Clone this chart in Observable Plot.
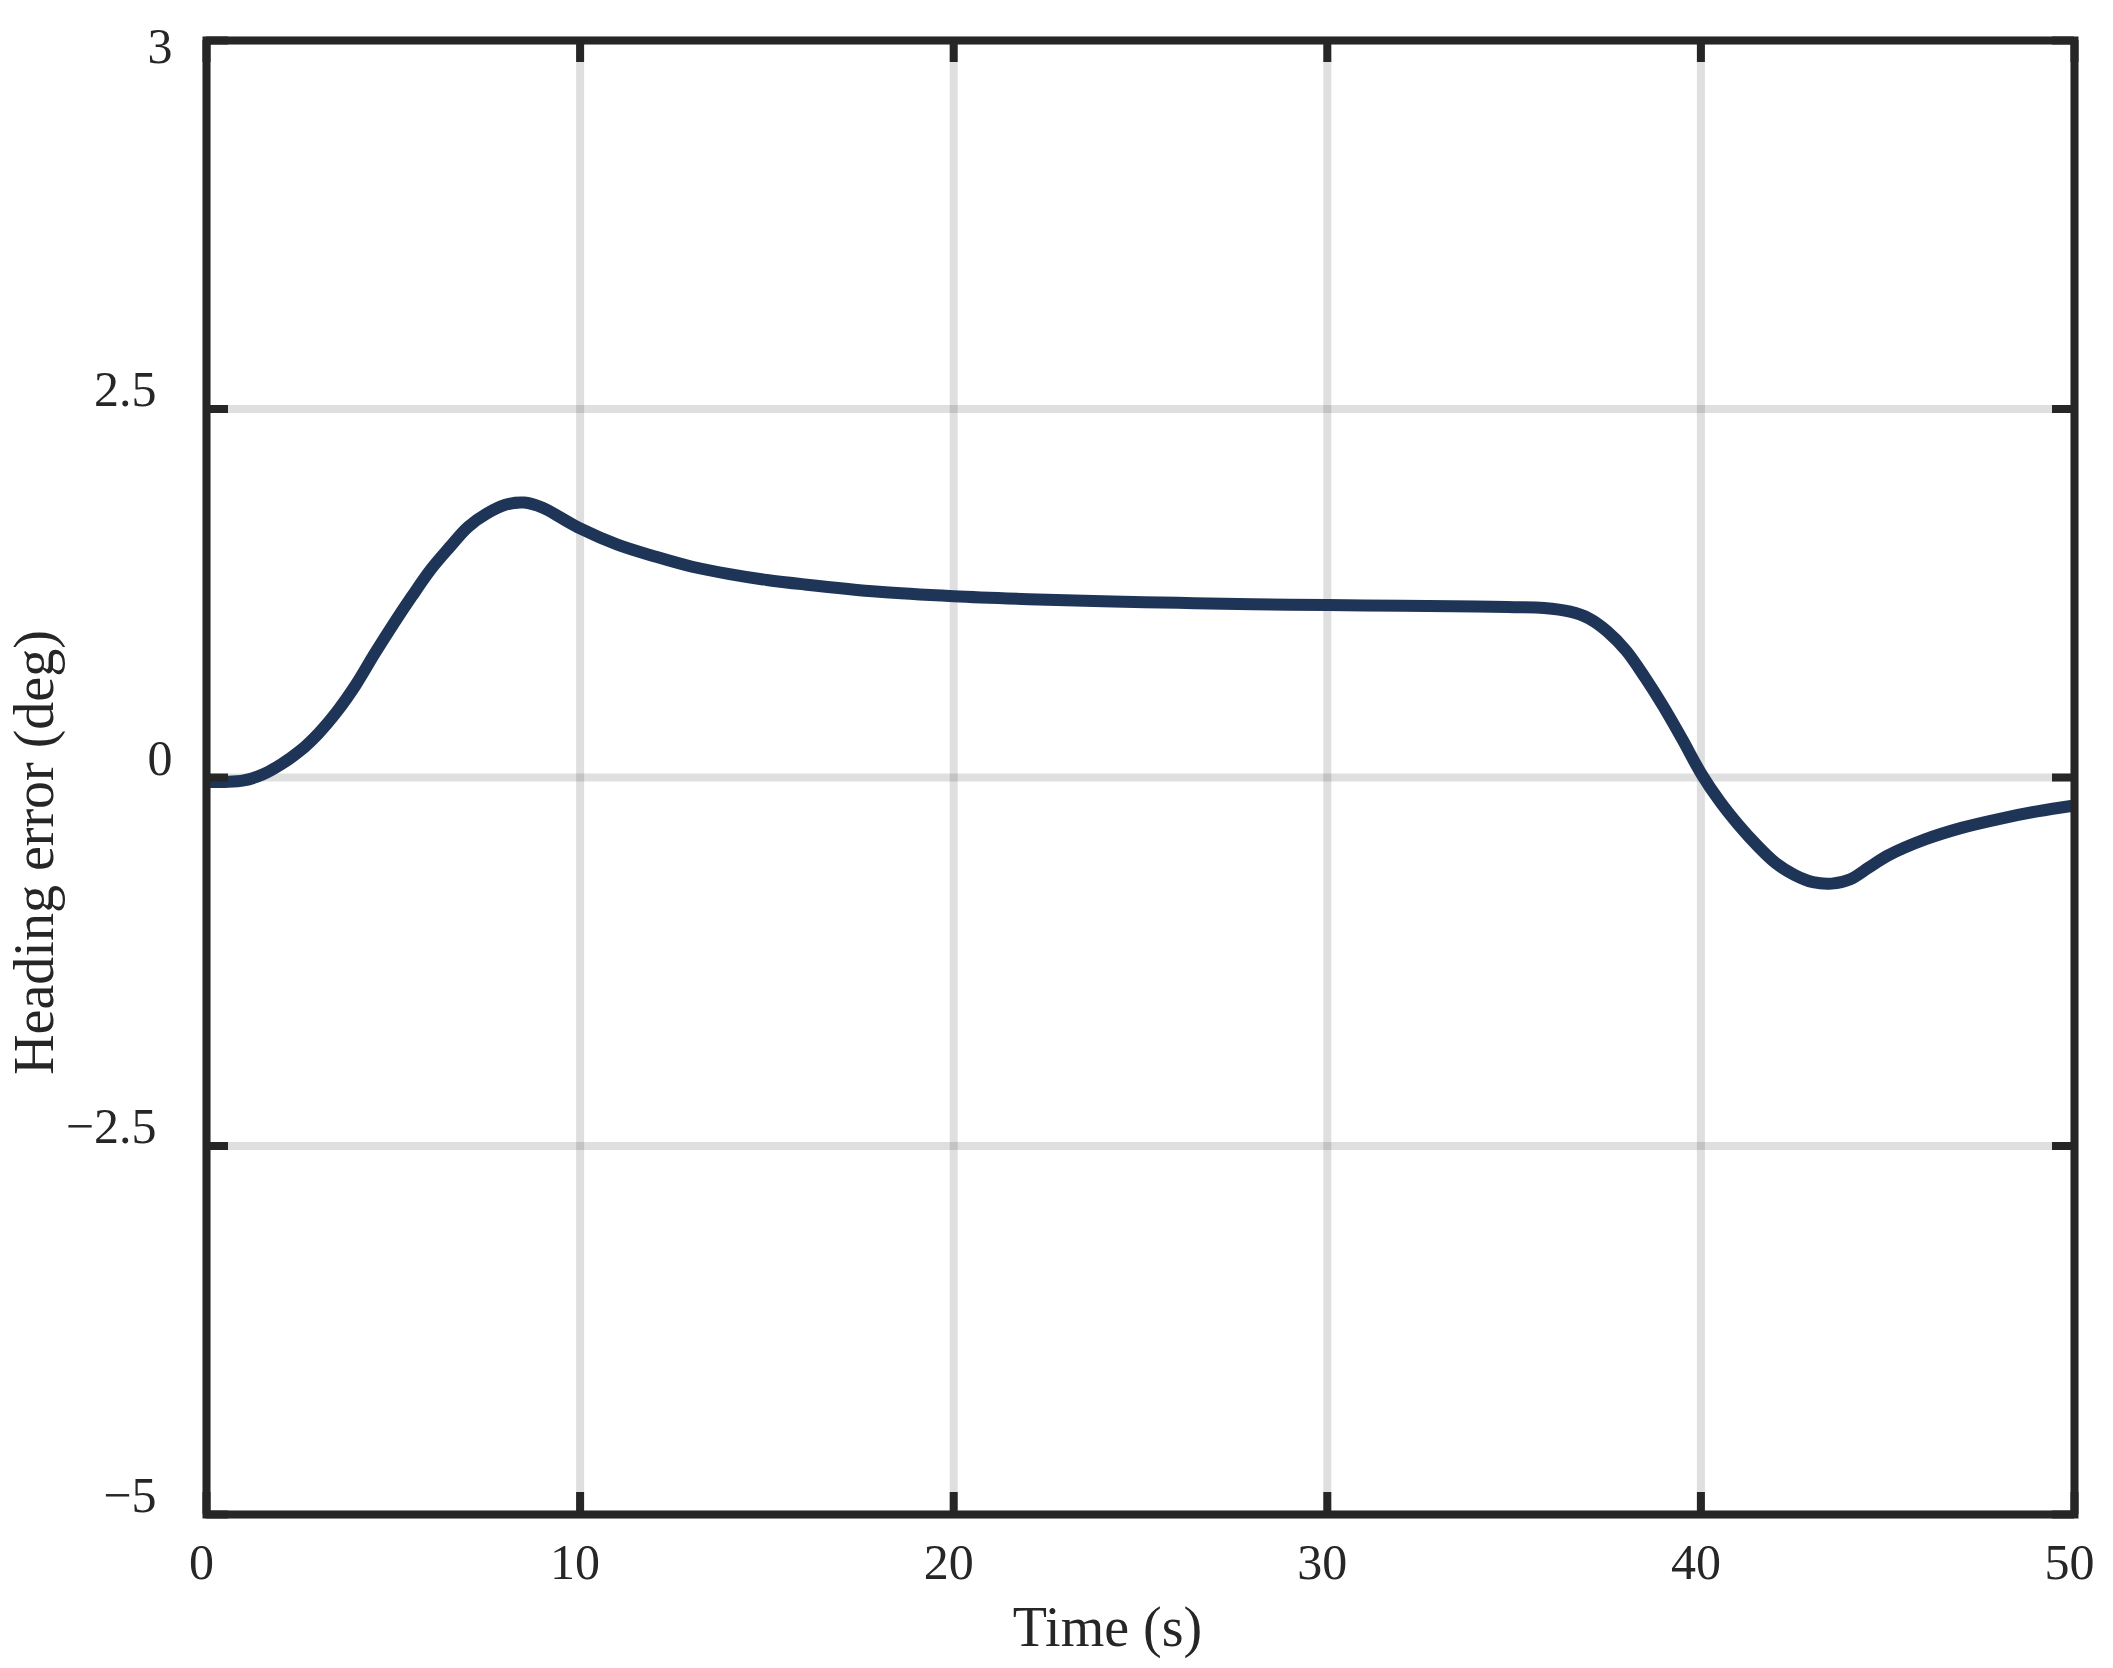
<!DOCTYPE html>
<html>
<head>
<meta charset="utf-8">
<script src="https://cdn.jsdelivr.net/npm/d3@7"></script>
<script src="https://cdn.jsdelivr.net/npm/@observablehq/plot@0.6"></script>
<style>
  html, body { margin: 0; padding: 0; background: #ffffff; }
  #chart svg { display: block; }
</style>
</head>
<body>
<div id="chart"></div>
<script>
// ---- data ----
const time = [0, 0.5, 1, 1.5, 2, 2.5, 3, 3.5, 4, 4.5, 5, 5.5, 6, 6.5, 7, 7.5, 8, 8.5, 9, 9.5,
  10, 11, 12, 13, 14, 15, 16, 18, 20, 22, 24, 26, 28, 30, 32, 34, 35, 35.8, 36.5, 37, 37.5,
  38, 38.5, 39, 39.5, 40, 40.5, 41, 41.5, 42, 42.5, 43, 43.5, 44, 44.5, 45, 46, 47, 48, 49, 50];
const heading = [-0.03, -0.03, -0.02, 0.02, 0.09, 0.18, 0.30, 0.45, 0.63, 0.84, 1.04, 1.23, 1.41, 1.56, 1.70, 1.79, 1.85, 1.865, 1.83, 1.76,
  1.69, 1.58, 1.50, 1.43, 1.38, 1.34, 1.31, 1.26, 1.23, 1.21, 1.195, 1.185, 1.175, 1.17, 1.165, 1.16, 1.155, 1.15, 1.125, 1.08, 0.99,
  0.86, 0.68, 0.48, 0.26, 0.03, -0.16, -0.32, -0.46, -0.58, -0.66, -0.71, -0.72, -0.69, -0.61, -0.53, -0.42, -0.34, -0.28, -0.23, -0.19];

const xTicks = [0, 10, 20, 30, 40, 50];
const xTickLabels = ["0", "10", "20", "30", "40", "50"];
const yTicks = [-5, -2.5, 0, 2.5, 5];
const yTickLabels = ["\u22125", "\u22122.5", "0", "2.5", "3"];

const xLabel = "Time (s)";
const yLabel = "Heading error (deg)";

// ---- layout ----
const W = 2113, H = 1668;
const mL = 206, mR = 39, mT = 40, mB = 154;
const plotW = W - mL - mR, plotH = H - mT - mB;
const tickLen = 22;
const ink = "#262626";

const data = time.map((t, i) => ({t, v: heading[i]}));
const yFmt = d => yTickLabels[yTicks.indexOf(d)];
const xFmt = d => xTickLabels[xTicks.indexOf(d)];

const chart = Plot.plot({
  width: W, height: H,
  marginLeft: mL, marginRight: mR, marginTop: mT, marginBottom: mB,
  x: {domain: [0, 50]},
  y: {domain: [-5, 5]},
  style: {fontFamily: "'Liberation Serif', 'Times New Roman', serif", color: ink, background: "#ffffff"},
  marks: [
    Plot.gridX(xTicks, {stroke: ink, strokeOpacity: 0.15, strokeWidth: 8}),
    Plot.gridY(yTicks, {stroke: ink, strokeOpacity: 0.15, strokeWidth: 8}),
    Plot.line(data, {x: "t", y: "v", stroke: "#1f3558", strokeWidth: 12, curve: "catmull-rom", strokeLinecap: "butt"}),
    // inward ticks on all four sides
    Plot.tickX(xTicks, {x: d => d, insetBottom: plotH - tickLen, stroke: ink, strokeWidth: 8}),
    Plot.tickX(xTicks, {x: d => d, insetTop: plotH - tickLen, stroke: ink, strokeWidth: 8}),
    Plot.tickY(yTicks, {y: d => d, insetRight: plotW - tickLen, stroke: ink, strokeWidth: 8}),
    Plot.tickY(yTicks, {y: d => d, insetLeft: plotW - tickLen, stroke: ink, strokeWidth: 8}),
    Plot.frame({stroke: ink, strokeWidth: 8}),
    Plot.axisX({ticks: xTicks, tickFormat: xFmt, tickSize: 0, tickPadding: 29, fontSize: 50, label: null, dx: -5}),
    Plot.axisY({ticks: [-5, -2.5, 2.5], tickFormat: yFmt, tickSize: 0, tickPadding: 50, fontSize: 50, label: null, dy: -19}),
    Plot.axisY({ticks: [0], tickFormat: yFmt, tickSize: 0, tickPadding: 34, fontSize: 50, label: null, dy: -19}),
    Plot.axisY({ticks: [5], tickFormat: yFmt, tickSize: 0, tickPadding: 34, fontSize: 50, label: null, dy: 6}),
    Plot.text([xLabel], {text: d => d, frameAnchor: "bottom", textAnchor: "middle", lineAnchor: "middle", dx: -33, dy: 114, fontSize: 56, fill: ink}),
    Plot.text([yLabel], {text: d => d, frameAnchor: "left", textAnchor: "middle", rotate: -90, lineAnchor: "middle", dx: -171, dy: 75, fontSize: 56, fill: ink})
  ]
});

document.getElementById("chart").appendChild(chart);
</script>
</body>
</html>
